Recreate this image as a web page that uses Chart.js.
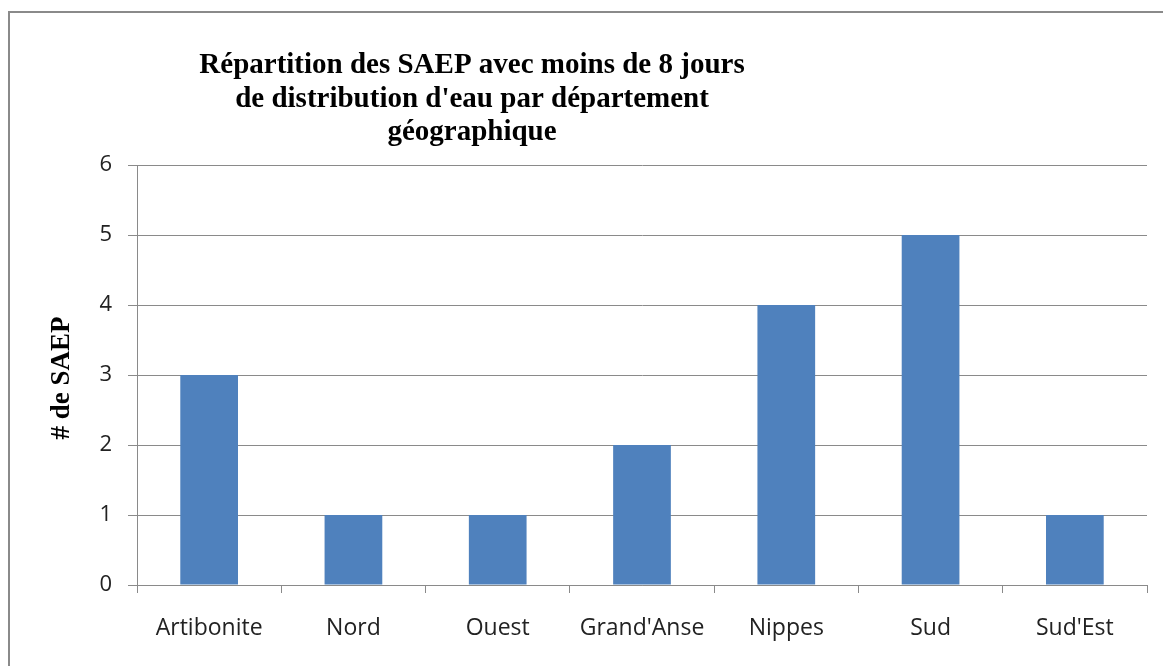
<!DOCTYPE html>
<html><head><meta charset="utf-8">
<script src="https://cdn.jsdelivr.net/npm/chart.js@4/dist/chart.umd.min.js"></script>
<style>html,body{margin:0;padding:0;background:#fff}#wrap{width:1163px;height:666px;position:relative}</style>
</head><body><div id="wrap"><canvas id="c" width="1163" height="666"></canvas></div>
<script>
const categories = ["Artibonite","Nord","Ouest","Grand'Anse","Nippes","Sud","Sud'Est"];
const saepCounts = [3,1,1,2,4,5,1];
const yTicks = [0,1,2,3,4,5,6];
const titleLines = ["Répartition des SAEP avec moins de 8 jours","de distribution d'eau par département","géographique"];
const yAxisTitle = "# de SAEP";

const deco = {
  id:'deco',
  beforeDraw(chart){
    const ctx = chart.ctx;
    ctx.save();
    ctx.strokeStyle = '#8a8a8a'; ctx.lineWidth = 2;
    ctx.beginPath(); ctx.moveTo(9, 700); ctx.lineTo(9, 12); ctx.lineTo(1200, 12); ctx.stroke();
    ctx.restore();
  },
  afterDraw(chart){
    const ctx = chart.ctx;
    ctx.save();
    ctx.fillStyle = '#000';
    ctx.font = 'bold 29px "Liberation Serif"';
    ctx.textAlign = 'center'; ctx.textBaseline = 'alphabetic';
    titleLines.forEach((t,i)=>ctx.fillText(t, 472, 73 + i*33.5));
    ctx.translate(62, 378); ctx.rotate(-Math.PI/2);
    ctx.textBaseline = 'middle';
    ctx.font = 'bold 27px "Liberation Serif"';
    ctx.fillText(yAxisTitle, 0, 0);
    ctx.restore();
  }
};

new Chart(document.getElementById('c'), {
  type:'bar',
  data:{labels:categories, datasets:[{data:saepCounts, backgroundColor:'#4F81BD', borderWidth:0, categoryPercentage:1, barPercentage:0.4}]},
  options:{
    responsive:false, animation:false, devicePixelRatio:1,
    layout:{padding:{top:165, right:16, left:0, bottom:0}},
    plugins:{legend:{display:false}, title:{display:false}, tooltip:{enabled:false}},
    scales:{
      x:{
        grid:{offset:true, drawOnChartArea:false, drawTicks:true, tickLength:8, color:'#8a8a8a'},
        border:{color:'#8a8a8a'},
        ticks:{color:'#222', font:{family:'"Open Sans"', size:23}, padding:22, maxRotation:0},
        afterFit(s){ s.height = 81; }
      },
      y:{
        min:0, max:6,
        afterBuildTicks(s){ s.ticks = yTicks.map(v=>({value:v})); },
        grid:{color:'#8a8a8a', tickLength:9},
        border:{color:'#8a8a8a'},
        ticks:{color:'#222', font:{family:'"Open Sans"', size:22}, padding:16},
        afterFit(s){ s.width = 137; }
      }
    }
  },
  plugins:[deco]
});
</script></body></html>
